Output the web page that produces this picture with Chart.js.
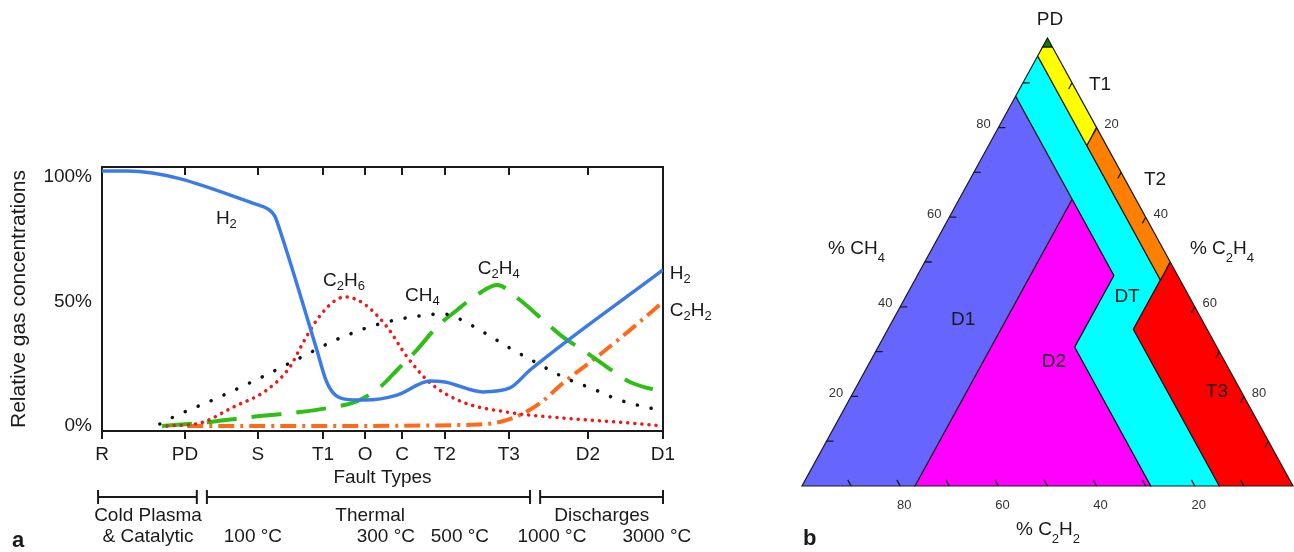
<!DOCTYPE html>
<html>
<head>
<meta charset="utf-8">
<script src="https://cdn.jsdelivr.net/npm/chart.js@4/dist/chart.umd.min.js"></script>
<style>
  html, body { margin: 0; padding: 0; background: #fff; }
  #wrap { position: relative; width: 1294px; height: 552px; }
  #left { position: absolute; left: 0; top: 0; }
  #right { position: absolute; left: 740px; top: 0; }
</style>
</head>
<body>
<div id="wrap">
  <canvas id="left" width="740" height="552"></canvas>
  <canvas id="right" width="554" height="552"></canvas>
</div>
<script>
const FONT = "'Liberation Sans', Arial, Helvetica, sans-serif";
const INK = "#1a1a1a";

// ---- panel a: fault types along x (uneven spacing, 0..100) ----
const faultPos = [0, 14.8, 27.8, 39.4, 46.9, 53.5, 61.1, 72.5, 86.6, 100];
const faultNames = ["R", "PD", "S", "T1", "O", "C", "T2", "T3", "D2", "D1"];
const yTicks = [0, 50, 100];

// relative gas concentrations [x, %]
const h2 = [[0, 102.4], [4.5, 102.4], [27.8, 88.8], [29.6, 87.1], [30.8, 84.3], [31.7, 78.7],
  [38.3, 30.5], [39.9, 18.5], [41.2, 13.3], [43.3, 10.8], [46.9, 10.4], [52.6, 12.4],
  [58.5, 18.1], [61.1, 17.7], [67.9, 13.7], [72.7, 15.3], [76.3, 22.5], [100, 62.7]];
const c2h6 = [[11.6, 0], [17.5, 1.2], [23.4, 7.6], [29.4, 14.5], [33.5, 23.7], [35.8, 33.3],
  [38.3, 42.6], [41.2, 49.8], [43.3, 51.8], [46.5, 49.4], [50.8, 39.8], [54.4, 27.7],
  [58.5, 17.3], [64.3, 9.6], [72.2, 5.6], [82.2, 3.2], [94.1, 1.2], [100, 0]];
const ch4 = [[10.3, 0.8], [12.7, 3.6], [20.5, 11.2], [27.8, 18.9], [34.9, 26.9], [42.4, 35.3],
  [50.1, 41.4], [57.9, 44.6], [60.8, 45], [63.3, 43.4], [67.9, 37.8], [72.7, 31.3],
  [77.5, 25.3], [82.2, 19.7], [87.5, 14.9], [92.3, 10.4], [100, 6]];
const c2h4 = [[10.7, 0], [17.5, 1.2], [26.4, 3.6], [35.3, 5.6], [41.2, 7.6], [45.5, 10],
  [49.6, 15.7], [52.6, 22.5], [56.1, 30.5], [59.7, 39.8], [63.3, 46.6], [66.8, 52.6],
  [70.4, 56.6], [74.5, 50.6], [78.6, 42.6], [82.2, 35.7], [85.7, 30.5], [90, 23.7],
  [94.1, 17.7], [100, 13.7]];
const c2h2 = [[15.2, 0], [35.3, 0], [64.3, 0.4], [70.9, 1.6], [74.5, 4.4], [78.1, 9.2],
  [82.2, 17.3], [88.2, 27.7], [94.1, 38.5], [100, 49.8]];

const curveLabels = [
  { text: "H2", x: 20.3, y: 83.7 },
  { text: "C2H6", x: 39.4, y: 59 },
  { text: "CH4", x: 54, y: 53 },
  { text: "C2H4", x: 67, y: 63.9 },
  { text: "H2", x: 101.2, y: 61.8 },
  { text: "C2H2", x: 101.2, y: 47 }
];

const brackets = [[-0.7, 16.9], [18.7, 76.3], [78.1, 100]];
const groupNames = ["Cold Plasma", "Thermal", "Discharges"];
const groupPos = [8.2, 47.8, 89.1];
const tempNames = ["& Catalytic", "100 °C", "300 °C", "500 °C", "1000 °C", "3000 °C"];
const tempPos = [8.2, 26.9, 50.6, 63.8, 80.2, 98.9];

// ---- panel b: Duval triangle zones, vertices as [%CH4, %C2H4, %C2H2] ----
const zonePD = [[98, 2, 0], [100, 0, 0], [98, 0, 2]];
const zoneT1 = [[98, 2, 0], [80, 20, 0], [76, 20, 4], [96, 0, 4], [98, 0, 2]];
const zoneT2 = [[80, 20, 0], [50, 50, 0], [46, 50, 4], [76, 20, 4]];
const zoneT3 = [[50, 50, 0], [0, 100, 0], [0, 85, 15], [35, 50, 15]];
const zoneD1 = [[87, 0, 13], [0, 0, 100], [0, 23, 77], [64, 23, 13]];
const zoneD2 = [[64, 23, 13], [0, 23, 77], [0, 71, 29], [31, 40, 29], [47, 40, 13]];
const zoneDT = [[96, 0, 4], [87, 0, 13], [64, 23, 13], [47, 40, 13], [31, 40, 29],
  [0, 71, 29], [0, 85, 15], [35, 50, 15], [46, 50, 4], [76, 20, 4]];
const minorTicks = [10, 20, 30, 40, 50, 60, 70, 80, 90];
const majorTicks = [20, 40, 60, 80];

const triLabels = [
  { text: "PD", x: 50.5, y: 104, align: "center" },
  { text: "T1", x: 60.7, y: 89.5, align: "center" },
  { text: "T2", x: 71.9, y: 68.3, align: "center" },
  { text: "% CH4", x: 5.3, y: 53.3, align: "left", chem: true },
  { text: "% C2H4", x: 79, y: 53.3, align: "left", chem: true },
  { text: "D1", x: 32.8, y: 37.1, align: "center" },
  { text: "DT", x: 66.2, y: 42.2, align: "center" },
  { text: "D2", x: 51.3, y: 27.7, align: "center" },
  { text: "T3", x: 84.5, y: 21, align: "center" },
  { text: "% C2H2", x: 50.1, y: -9.3, align: "center", chem: true }
];

Chart.defaults.font.family = FONT;
Chart.defaults.color = INK;

// text with digit subscripts, y = centre of capitals
function drawFormula(ctx, text, px, py, size, align, subDrop) {
  const parts = text.match(/\d+|\D+/g);
  const sub = Math.round(size * 0.68);
  let w = 0;
  parts.forEach(p => {
    ctx.font = (/\d/.test(p) ? sub : size) + "px " + FONT;
    w += ctx.measureText(p).width;
  });
  let cx = align === "center" ? px - w / 2 : px;
  const base = py + size * 0.36;
  ctx.textAlign = "left";
  ctx.textBaseline = "alphabetic";
  parts.forEach(p => {
    const isSub = /\d/.test(p);
    ctx.font = (isSub ? sub : size) + "px " + FONT;
    ctx.fillText(p, cx, isSub ? base + subDrop : base);
    cx += ctx.measureText(p).width;
  });
}

const pts = arr => arr.map(p => ({ x: p[0], y: p[1] }));
const setTicks = vals => s => { s.ticks = vals.map(v => ({ value: v })); };

const leftDeco = {
  id: "leftDeco",
  afterDraw(chart) {
    const { ctx, scales: { x, y } } = chart;
    ctx.save();
    ctx.fillStyle = INK;
    curveLabels.forEach(l =>
      drawFormula(ctx, l.text, x.getPixelForValue(l.x), y.getPixelForValue(l.y), 19, "left", 4));

    // range brackets under the axis
    ctx.strokeStyle = INK;
    ctx.lineWidth = 2;
    const by = 497;
    brackets.forEach(b => {
      const x0 = x.getPixelForValue(b[0]), x1 = x.getPixelForValue(b[1]);
      ctx.beginPath();
      ctx.moveTo(x0, by); ctx.lineTo(x1, by);
      ctx.moveTo(x0, by - 7); ctx.lineTo(x0, by + 7);
      ctx.moveTo(x1, by - 7); ctx.lineTo(x1, by + 7);
      ctx.stroke();
    });
    ctx.font = "19px " + FONT;
    ctx.textAlign = "center";
    ctx.textBaseline = "middle";
    groupNames.forEach((g, i) => ctx.fillText(g, x.getPixelForValue(groupPos[i]), 516));
    tempNames.forEach((t, i) => ctx.fillText(t, x.getPixelForValue(tempPos[i]), 537));

    ctx.font = "bold 22px " + FONT;
    ctx.textAlign = "left";
    ctx.textBaseline = "alphabetic";
    ctx.fillText("a", 12, 547);
    ctx.restore();
  }
};

new Chart(document.getElementById("left"), {
  type: "line",
  data: {
    datasets: [
      { label: "H2", data: pts(h2), borderColor: "#3b7be9", borderWidth: 3.5 },
      { label: "C2H6", data: pts(c2h6), borderColor: "#f01818", borderWidth: 3.5,
        borderDash: [0.1, 7], borderCapStyle: "round" },
      { label: "CH4", data: pts(ch4), borderColor: "#111", borderWidth: 3.5,
        borderDash: [0.1, 14], borderCapStyle: "round" },
      { label: "C2H4", data: pts(c2h4), borderColor: "#2cbf14", borderWidth: 4,
        borderDash: [30, 15] },
      { label: "C2H2", data: pts(c2h2), borderColor: "#ff6a1a", borderWidth: 4,
        borderDash: [16, 6, 3, 6] }
    ]
  },
  options: {
    responsive: false,
    animation: false,
    events: [],
    layout: { padding: { left: 0, top: 167, right: 77, bottom: 63 } },
    elements: {
      point: { radius: 0 },
      line: { cubicInterpolationMode: "monotone", fill: false }
    },
    plugins: { legend: { display: false }, tooltip: { enabled: false } },
    scales: {
      x: {
        type: "linear", position: "bottom", min: 0, max: 100,
        afterBuildTicks: setTicks(faultPos),
        afterFit: s => { s.height = 58; },
        ticks: { autoSkip: false, maxRotation: 0, padding: 4, font: { size: 19 },
          callback: (v, i) => faultNames[i] },
        grid: { drawOnChartArea: false, tickLength: 8, lineWidth: 2, color: INK },
        border: { display: true, color: INK, width: 2 },
        title: { display: true, text: "Fault Types", font: { size: 19 },
          padding: { top: 0, bottom: 0 } }
      },
      x2: {
        axis: "x", type: "linear", position: "top", min: 0, max: 100,
        afterBuildTicks: setTicks(faultPos),
        afterFit: s => { s.height = 0; },
        ticks: { display: false },
        grid: { drawOnChartArea: false, tickLength: -8, lineWidth: 2, color: INK },
        border: { display: true, color: INK, width: 2 }
      },
      y: {
        type: "linear", position: "left", min: -2, max: 104,
        afterBuildTicks: setTicks(yTicks),
        afterFit: s => { s.width = 102; },
        ticks: { padding: 10, font: { size: 19 }, callback: v => v + "%" },
        grid: { display: false, drawTicks: false },
        border: { display: true, color: INK, width: 2 },
        title: { display: true, text: "Relative gas concentrations", font: { size: 21 },
          padding: { top: 7, bottom: 0 } }
      },
      y2: {
        axis: "y", type: "linear", position: "right", min: -2, max: 104,
        afterFit: s => { s.width = 0; },
        ticks: { display: false },
        grid: { display: false, drawTicks: false },
        border: { display: true, color: INK, width: 2 }
      }
    }
  },
  plugins: [leftDeco]
});

// ---- panel b ----
// ternary -> plot coordinates: x = C2H4 + CH4/2, y = CH4
const tern = z => z.concat([z[0]]).map(v => ({ x: v[1] + v[0] / 2, y: v[0] }));

const triDeco = {
  id: "triDeco",
  afterDatasetsDraw(chart) {
    const { ctx, scales: { x, y } } = chart;
    const P = (ch, c2h4) => [x.getPixelForValue(c2h4 + ch / 2), y.getPixelForValue(ch)];
    const unit = (a, b) => {
      const dx = b[0] - a[0], dy = b[1] - a[1], l = Math.hypot(dx, dy);
      return [dx / l, dy / l];
    };
    const apex = P(100, 0), bl = P(0, 0), br = P(0, 100);
    const upLeft = unit(br, apex), downLeft = unit(apex, bl);
    const len = 7;
    ctx.save();
    ctx.strokeStyle = INK;
    ctx.lineWidth = 1.3;
    ctx.beginPath();
    minorTicks.forEach(t => {
      let p = P(t, 0);
      ctx.moveTo(p[0], p[1]); ctx.lineTo(p[0] + len, p[1]);
      p = P(0, 100 - t);
      ctx.moveTo(p[0], p[1]); ctx.lineTo(p[0] + upLeft[0] * len, p[1] + upLeft[1] * len);
      p = P(100 - t, t);
      ctx.moveTo(p[0], p[1]); ctx.lineTo(p[0] + downLeft[0] * len, p[1] + downLeft[1] * len);
    });
    ctx.stroke();

    ctx.fillStyle = "#333";
    ctx.font = "13px " + FONT;
    ctx.textAlign = "center";
    ctx.textBaseline = "middle";
    majorTicks.forEach(t => {
      let p = P(t, 0);
      ctx.fillText(String(t), p[0] - 15, p[1] - 3);
      p = P(100 - t, t);
      ctx.fillText(String(t), p[0] + 15, p[1] - 3);
      p = P(0, 100 - t);
      ctx.fillText(String(t), p[0] + 4, p[1] + 19);
    });

    ctx.fillStyle = INK;
    triLabels.forEach(l => {
      const px = x.getPixelForValue(l.x), py = y.getPixelForValue(l.y);
      if (l.chem) {
        drawFormula(ctx, l.text, px, py, 19, l.align, 8);
      } else {
        ctx.font = "19px " + FONT;
        ctx.textAlign = l.align;
        ctx.textBaseline = "middle";
        ctx.fillText(l.text, px, py);
      }
    });

    ctx.font = "bold 22px " + FONT;
    ctx.textAlign = "left";
    ctx.textBaseline = "alphabetic";
    ctx.fillText("b", bl[0] + 1, 545);
    ctx.restore();
  }
};

const zone = (data, color) => ({
  data: tern(data), backgroundColor: color, borderColor: INK, borderWidth: 1.2,
  fill: "shape", pointRadius: 0, tension: 0, clip: false, borderJoinStyle: "miter"
});

new Chart(document.getElementById("right"), {
  type: "line",
  data: {
    datasets: [
      zone(zonePD, "#0a7a0a"),
      zone(zoneT1, "#ffff00"),
      zone(zoneT2, "#ff8000"),
      zone(zoneT3, "#ff0000"),
      zone(zoneD1, "#6666ff"),
      zone(zoneD2, "#ff00ff"),
      zone(zoneDT, "#00ffff")
    ]
  },
  options: {
    responsive: false,
    animation: false,
    events: [],
    layout: { padding: { left: 62, right: 1, top: 38, bottom: 66 } },
    plugins: { legend: { display: false }, tooltip: { enabled: false } },
    scales: {
      x: { type: "linear", min: 0, max: 100, display: false },
      y: { type: "linear", min: 0, max: 100, display: false }
    }
  },
  plugins: [triDeco]
});
</script>
</body>
</html>
